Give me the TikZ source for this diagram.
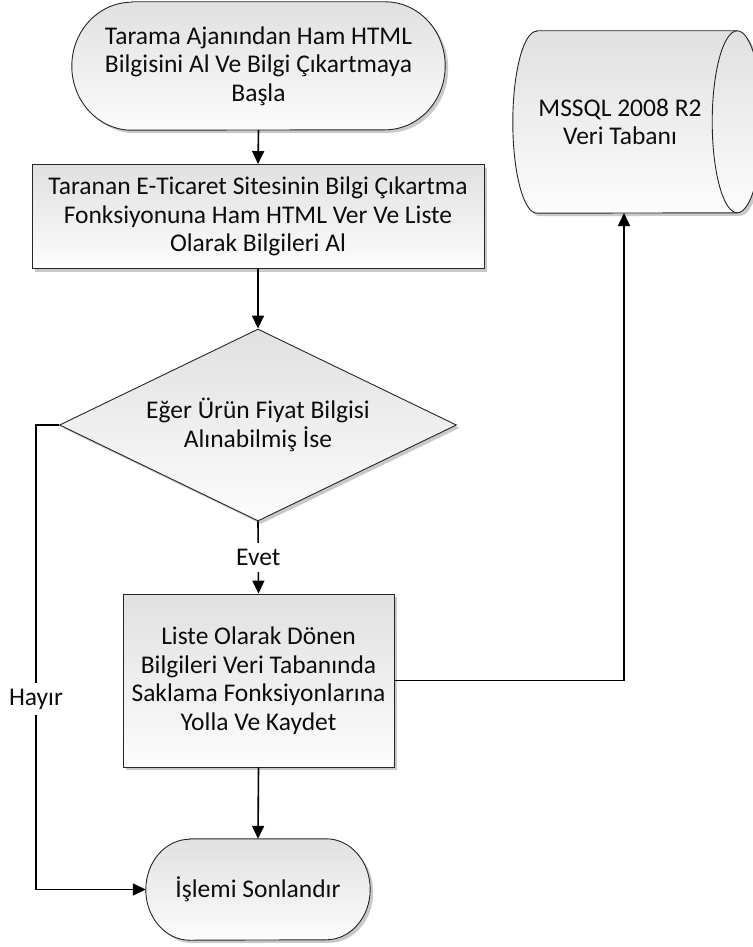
\documentclass[tikz,border=0pt]{standalone}
\usepackage{fontspec}
\setmainfont{Carlito}
\usetikzlibrary{arrows.meta,shapes.geometric,shadows,calc,backgrounds}
\begin{document}
\begin{tikzpicture}[x=1pt,y=-1pt,
  font=\fontsize{25.5}{28.5}\selectfont,
  boxfill/.style={top color=black!12, bottom color=black!1, draw=black!85, line width=0.9pt,
    drop shadow={shadow xshift=3pt, shadow yshift=-3pt, fill=black!30, opacity=0.7}},
  txt/.style={align=center, inner sep=0pt, text=black!95},
  procbox/.style={txt, rectangle, boxfill},
  decision/.style={txt, diamond, boxfill, aspect=2},
  conn/.style={draw=black, line width=1.6pt, -{Triangle[length=13pt,width=12pt]}},
  lbl/.style={fill=white, inner xsep=3pt, inner ysep=6pt, text=black!95}
]
% page frame
\path[use as bounding box, clip] (0,0) rectangle (752,947);

% --- nodes -------------------------------------------------------------
\node[txt, minimum width=373pt, minimum height=128pt] (start) at (258.5,66)
  {Tarama Ajanından Ham HTML\\Bilgisini Al Ve Bilgi Çıkartmaya\\Başla};

\node[procbox, minimum width=452pt, minimum height=104pt] (extract) at (258,216.5)
  {Taranan E-Ticaret Sitesinin Bilgi Çıkartma\\Fonksiyonuna Ham HTML Ver Ve Liste\\Olarak Bilgileri Al};

\node[decision, minimum width=397pt, minimum height=192pt] (check) at (258,425)
  {Eğer Ürün Fiyat Bilgisi\\Alınabilmiş İse};

\node[procbox, minimum width=271pt, minimum height=173pt] (store) at (258.5,680.5)
  {Liste Olarak Dönen\\Bilgileri Veri Tabanında\\Saklama Fonksiyonlarına\\Yolla Ve Kaydet};

\node[txt, minimum width=224pt, minimum height=101pt] (finish) at (258,889.5)
  {İşlemi Sonlandır};

\node[txt, minimum width=200pt, minimum height=182pt] (db) at (637,122)
  {};
\node[txt] (dblabel) at (620,122) {MSSQL 2008 R2\\Veri Tabanı};

% --- outlines of the rounded and stored-data shapes ---------------------
\begin{pgfonlayer}{background}
  \path[boxfill]
    ($(start.north west)+(60,0)$) -- ($(start.north east)+(-60,0)$)
    arc[start angle=90, end angle=-90, x radius=60pt, y radius=64pt]
    -- ($(start.south west)+(60,0)$)
    arc[start angle=270, end angle=90, x radius=60pt, y radius=64pt] -- cycle;

  \path[boxfill]
    ($(finish.north west)+(44,0)$) -- ($(finish.north east)+(-44,0)$)
    arc[start angle=90, end angle=-90, x radius=44pt, y radius=50.5pt]
    -- ($(finish.south west)+(44,0)$)
    arc[start angle=270, end angle=90, x radius=44pt, y radius=50.5pt] -- cycle;

  % horizontal cylinder: back face on the left, front face on the right
  \path[boxfill]
    (db.north west) -- (db.north east)
    arc[start angle=90, end angle=-90, x radius=25pt, y radius=91pt]
    -- (db.south west)
    arc[start angle=270, end angle=90, x radius=24pt, y radius=91pt] -- cycle;
  \draw[draw=black!85, line width=0.9pt]
    (db.north east) arc[start angle=90, end angle=270, x radius=25pt, y radius=91pt];
\end{pgfonlayer}

% --- connectors --------------------------------------------------------
\coordinate (nobend) at (36,425);
\coordinate (dbin) at (624,213);

\draw[conn] (start.south) -- (extract.north);
\draw[conn] (extract.south) -- (check.north);
\draw[conn] (check.south) -- node[lbl] (yes) {Evet} (store.north);
\draw[conn] (store.south) -- (finish.north);
\draw[conn] (store.east) -| (dbin);
\draw[conn] (check.west) -- (nobend) |- node[lbl, pos=0.295] (no) {Hayır} (finish.west);
\end{tikzpicture}
\end{document}
